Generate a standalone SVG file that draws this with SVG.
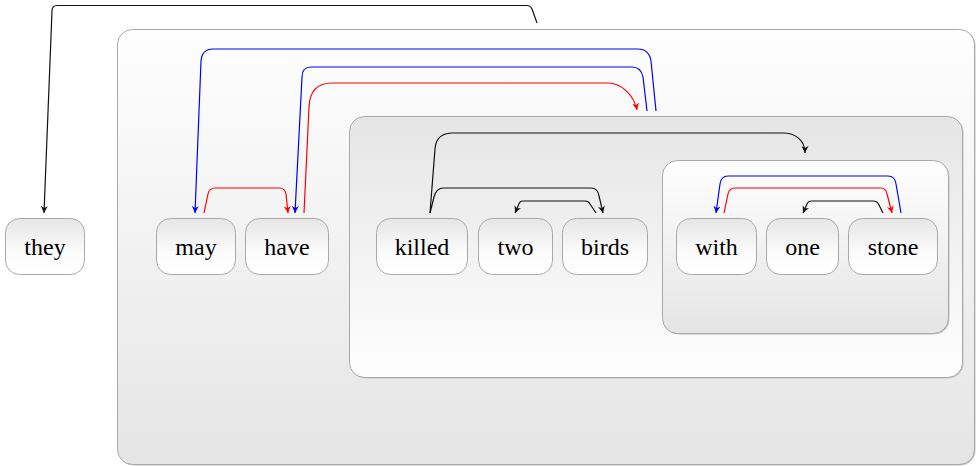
<svg xmlns="http://www.w3.org/2000/svg" width="976" height="466" viewBox="0 0 976 466">
<style>
.box{stroke:#a9a9a9;stroke-width:1}
.shadow{fill:#c4c4c4}
.node{stroke:#a9a9a9;stroke-width:1;fill:url(#gNode)}
.lbl{font-family:'Liberation Serif','Times New Roman',serif;font-size:24px;fill:#000;text-anchor:middle}
.c{fill:none;stroke-width:1.2}
.k{stroke:#111;marker-end:url(#aK)}
.b{stroke:#0000ff;marker-end:url(#aB)}
.r{stroke:#ff0000;marker-end:url(#aR)}
</style>
<defs>
<linearGradient id="gDown" x1="0" y1="0" x2="0" y2="1"><stop offset="0" stop-color="#fefefe"/><stop offset="1" stop-color="#e5e5e5"/></linearGradient>
<linearGradient id="gUp" x1="0" y1="0" x2="0" y2="1"><stop offset="0" stop-color="#e5e5e5"/><stop offset="1" stop-color="#fefefe"/></linearGradient>
<linearGradient id="gNode" x1="0" y1="0" x2="0" y2="1"><stop offset="0" stop-color="#e6e6e6"/><stop offset="0.6" stop-color="#fbfbfb"/><stop offset="1" stop-color="#ffffff"/></linearGradient>
<marker id="aK" viewBox="0 0 10 10" refX="10" refY="5" markerWidth="7" markerHeight="7" markerUnits="userSpaceOnUse" orient="auto"><path d="M0,0 L10,5 L0,10 L3,5 z" fill="#111"/></marker>
<marker id="aB" viewBox="0 0 10 10" refX="10" refY="5" markerWidth="7" markerHeight="7" markerUnits="userSpaceOnUse" orient="auto"><path d="M0,0 L10,5 L0,10 L3,5 z" fill="#0000ff"/></marker>
<marker id="aR" viewBox="0 0 10 10" refX="10" refY="5" markerWidth="7" markerHeight="7" markerUnits="userSpaceOnUse" orient="auto"><path d="M0,0 L10,5 L0,10 L3,5 z" fill="#ff0000"/></marker>
</defs>

<g id="box-outer">
<rect class="shadow" x="118.5" y="30.5" width="857" height="435" rx="15"/>
<rect class="box" x="117.5" y="29.5" width="857" height="435" rx="15" fill="url(#gDown)"/>
</g>
<g id="box-middle">
<rect class="shadow" x="350.5" y="117.5" width="613" height="261" rx="15"/>
<rect class="box" x="349.5" y="116.5" width="613" height="261" rx="15" fill="url(#gUp)"/>
</g>
<g id="box-inner">
<rect class="shadow" x="663.5" y="161.5" width="286" height="173" rx="15"/>
<rect class="box" x="662.5" y="160.5" width="286" height="173" rx="15" fill="url(#gDown)"/>
</g>

<g id="node-they"><rect class="node" x="5.5" y="218.5" width="79" height="56" rx="14"/><text class="lbl" x="45" y="254.5">they</text></g>
<g id="node-may"><rect class="node" x="156.5" y="218.5" width="79" height="56" rx="14"/><text class="lbl" x="196" y="254.5">may</text></g>
<g id="node-have"><rect class="node" x="245.5" y="218.5" width="83" height="56" rx="14"/><text class="lbl" x="287" y="254.5">have</text></g>
<g id="node-killed"><rect class="node" x="376.5" y="218.5" width="91" height="56" rx="14"/><text class="lbl" x="422" y="254.5">killed</text></g>
<g id="node-two"><rect class="node" x="478.5" y="218.5" width="74" height="56" rx="14"/><text class="lbl" x="515.5" y="254.5">two</text></g>
<g id="node-birds"><rect class="node" x="562.5" y="218.5" width="85" height="56" rx="14"/><text class="lbl" x="605" y="254.5">birds</text></g>
<g id="node-with"><rect class="node" x="676.5" y="218.5" width="80" height="56" rx="14"/><text class="lbl" x="716.5" y="254.5">with</text></g>
<g id="node-one"><rect class="node" x="766.5" y="218.5" width="72" height="56" rx="14"/><text class="lbl" x="802.5" y="254.5">one</text></g>
<g id="node-stone"><rect class="node" x="848.5" y="218.5" width="89" height="56" rx="14"/><text class="lbl" x="893" y="254.5">stone</text></g>

<g id="connectors">
<path class="c k" d="M537,23 L532,9 Q530.5,5.5 527,5.5 H57 Q52,5.5 52,11 L44,213"/>
<path class="c b" d="M656,111 L651,61 Q649,49 638,49 H213 Q202,49 201,61 L195,213"/>
<path class="c b" d="M647,111 L643,77 Q641,67 632,67 H311 Q302,67 302,77 L295,213"/>
<path class="c r" d="M304,213 L309,107 Q310,83 332,83 H608 C621,83 634,95 637,110"/>
<path class="c r" d="M204,213 L208,194 Q209,188 215,188 H279 Q285,188 286,194 L288,213"/>
<path class="c k" d="M430,213 L435,149 Q436,133 453,133 H783 C795,133 805,140 805,153"/>
<path class="c k" d="M430,213 L434,197 Q436,188 444,188 H591 Q598,188 599,196 L603,213"/>
<path class="c k" d="M596,213 L590,204 Q588.5,201 585,201 H523 Q519.5,201 518.5,205 L515,213"/>
<path class="c b" d="M901,213 L896,184 Q895,176 888,176 H728 Q721,176 720,184 L716,213"/>
<path class="c r" d="M724,213 L728,194 Q729,188 735,188 H881 Q886,188 887,194 L892,213"/>
<path class="c k" d="M883,213 L878.5,204 Q877,201 873,201 H812 Q808,201 807,204 L803,213"/>
</g>
</svg>
